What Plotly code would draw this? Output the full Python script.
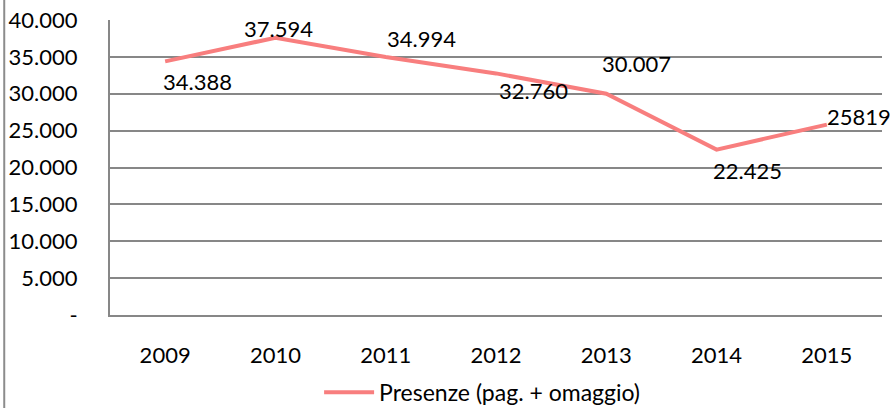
import plotly.graph_objects as go

years = ["2009", "2010", "2011", "2012", "2013", "2014", "2015"]
presenze = [34388, 37594, 34994, 32760, 30007, 22425, 25819]
y_ticks = [0, 5000, 10000, 15000, 20000, 25000, 30000, 35000, 40000]
y_tick_text = ["-", "5.000", "10.000", "15.000", "20.000", "25.000", "30.000", "35.000", "40.000"]

# value labels (the last one is shown without a thousands separator)
labels = [f"{v:,}".replace(",", ".") for v in presenze]
labels[-1] = str(presenze[-1])
# per-label offsets in pixels (x, y)
label_shift = [(-4, -20), (-33, 9), (-1, 18), (1, -17), (-6, 30), (-6, -21), (-2, 8)]

FONT = "Lato"
GRID = "#878787"
LINE = "#F87E7E"

fig = go.Figure()
fig.add_trace(go.Scatter(
    x=years, y=presenze, mode="lines",
    line=dict(color=LINE, width=4),
    name="Presenze (pag. + omaggio)",
))

# annotations placed by category index on the category axis
for i, (v, txt, (dx, dy)) in enumerate(zip(presenze, labels, label_shift)):
    fig.add_annotation(
        x=i, y=v, text=txt, showarrow=False,
        xanchor="left", yanchor="middle", xshift=dx, yshift=dy,
        font=dict(family=FONT, size=22, color="#000000"),
    )

# outer frame edge on the left
fig.add_shape(type="line", xref="paper", yref="paper",
              x0=-0.137, x1=-0.137, y0=-0.35, y1=1.1,
              line=dict(color="#8c8c8c", width=2))

fig.update_layout(
    width=890, height=408,
    margin=dict(l=110, r=8, t=20, b=93, autoexpand=False),
    paper_bgcolor="white", plot_bgcolor="white",
    font=dict(family=FONT, size=22, color="#000000"),
    showlegend=True,
    legend=dict(orientation="h", x=0.482, xanchor="center", y=-0.262, yanchor="middle",
                font=dict(family=FONT, size=23), itemwidth=50),
)
fig.update_xaxes(
    type="category", categoryarray=years, range=[-0.5, len(years) - 0.5],
    showgrid=False, showline=True, linecolor=GRID, linewidth=2,
    ticks="", ticklabelstandoff=20, tickfont=dict(family=FONT, size=22),
)
fig.update_yaxes(
    range=[0, 40000], tickvals=y_ticks, ticktext=y_tick_text,
    showgrid=True, gridcolor=GRID, gridwidth=2,
    showline=True, linecolor=GRID, linewidth=2, zeroline=False,
    ticks="", ticklabelstandoff=26, tickfont=dict(family=FONT, size=22),
)

fig.write_html("out.html")
